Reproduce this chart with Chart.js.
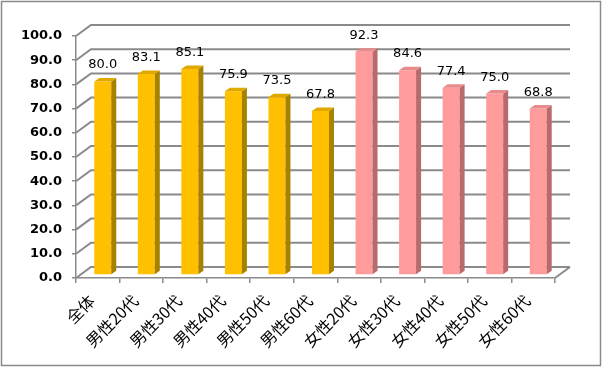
<!DOCTYPE html>
<html>
<head>
<meta charset="utf-8">
<script src="https://cdn.jsdelivr.net/npm/chart.js@4"></script>
<style>
body { margin: 0; background: #fff; }
#wrap { width: 603px; height: 368px; }
</style>
</head>
<body>
<div id="wrap"><canvas id="barChart" width="603" height="368"></canvas></div>
<script>
var categories = ['全体', '男性20代', '男性30代', '男性40代', '男性50代', '男性60代', '女性20代', '女性30代', '女性40代', '女性50代', '女性60代'];
var values = [80.0, 83.1, 85.1, 75.9, 73.5, 67.8, 92.3, 84.6, 77.4, 75.0, 68.8];
var groups = ['m', 'm', 'm', 'm', 'm', 'm', 'f', 'f', 'f', 'f', 'f'];
var yTicks = [0, 10, 20, 30, 40, 50, 60, 70, 80, 90, 100];

var front = { m: '#FFC000', f: '#FF9B9B' };
var side = { m: '#A68200', f: '#B96A6A' };
var topc = { m: '#E0A800', f: '#E88A8A' };

var wall = { dx: 15, dy: -11 };      // back wall offset
var bar = { dx: 5, dy: -3, d: 5, dd: -3.5 };  // bar offset and depth

var frame = {
	id: 'frame',
	beforeDraw: function (chart) {
		var ctx = chart.ctx;
		ctx.save();
		ctx.fillStyle = '#fff';
		ctx.fillRect(0, 0, chart.width, chart.height);
		ctx.strokeStyle = '#8a8a8a';
		ctx.lineWidth = 1.5;
		ctx.strokeRect(1.5, 1.5, 599, 364);
		ctx.restore();
	},
	beforeDatasetsDraw: function (chart) {
		var ctx = chart.ctx, y = chart.scales.y, a = chart.chartArea;
		ctx.save();
		ctx.strokeStyle = '#8a8a8a';
		ctx.lineWidth = 2;
		yTicks.forEach(function (v) {
			var py = y.getPixelForValue(v);
			ctx.beginPath();
			ctx.moveTo(a.left, py);
			ctx.lineTo(a.left + wall.dx, py + wall.dy);
			ctx.lineTo(a.right + wall.dx, py + wall.dy);
			ctx.stroke();
		});
		// floor right edge
		var p0 = y.getPixelForValue(0);
		ctx.beginPath();
		ctx.moveTo(a.right, p0);
		ctx.lineTo(a.right + wall.dx, p0 + wall.dy);
		ctx.stroke();
		ctx.restore();
		ctx.save();
		ctx.translate(bar.dx, bar.dy);
	},
	afterDatasetsDraw: function (chart) {
		var ctx = chart.ctx;
		ctx.restore();
		var meta = chart.getDatasetMeta(0);
		ctx.save();
		ctx.translate(bar.dx, bar.dy);
		meta.data.forEach(function (el, i) {
			var g = groups[i];
			var l = el.x - el.width / 2, r = el.x + el.width / 2, t = el.y, b = el.base;
			ctx.fillStyle = side[g];
			ctx.beginPath();
			ctx.moveTo(r, t);
			ctx.lineTo(r + bar.d, t + bar.dd);
			ctx.lineTo(r + bar.d, b + bar.dd);
			ctx.lineTo(r, b);
			ctx.closePath();
			ctx.fill();
			ctx.fillStyle = topc[g];
			ctx.beginPath();
			ctx.moveTo(l, t);
			ctx.lineTo(l + bar.d, t + bar.dd);
			ctx.lineTo(r + bar.d, t + bar.dd);
			ctx.lineTo(r, t);
			ctx.closePath();
			ctx.fill();
			ctx.fillStyle = '#000';
			ctx.font = '13px "DejaVu Sans"';
			ctx.textAlign = 'center';
			ctx.textBaseline = 'alphabetic';
			ctx.fillText(values[i].toFixed(1), el.x, el.y - 13);
		});
		ctx.restore();
	}
};

new Chart(document.getElementById('barChart'), {
	type: 'bar',
	data: {
		labels: categories,
		datasets: [
			{
				data: values,
				backgroundColor: groups.map(function (g) { return front[g]; }),
				barPercentage: 0.39,
				categoryPercentage: 1
			}
		]
	},
	options: {
		responsive: false,
		animation: false,
		events: [],
		layout: { padding: { top: 36, right: 48, bottom: 0, left: 0 } },
		plugins: {
			legend: { display: false },
			tooltip: { enabled: false }
		},
		scales: {
			x: {
				afterFit: function (s) { s.height = 90; },
				grid: { offset: true, drawOnChartArea: false, tickLength: 5, color: '#8a8a8a', lineWidth: 1.5 },
				border: { color: '#8a8a8a', width: 1.5 },
				ticks: {
					minRotation: 45, maxRotation: 45, padding: 8, labelOffset: -6, color: '#000',
					font: { family: '"Noto Sans CJK JP"', size: 16 }
				}
			},
			y: {
				min: 0, max: 100,
				afterFit: function (s) { s.width = 76; },
				afterBuildTicks: function (s) { s.ticks = yTicks.map(function (v) { return { value: v }; }); },
				grid: { drawOnChartArea: false, tickLength: 4, color: '#8a8a8a', lineWidth: 1.5 },
				border: { color: '#8a8a8a', width: 1.5 },
				ticks: {
					padding: 10, color: '#000',
					font: { family: '"DejaVu Sans"', size: 13, weight: 'bold' },
					callback: function (v) { return v.toFixed(1); }
				}
			}
		}
	},
	plugins: [frame]
});
</script>
</body>
</html>
